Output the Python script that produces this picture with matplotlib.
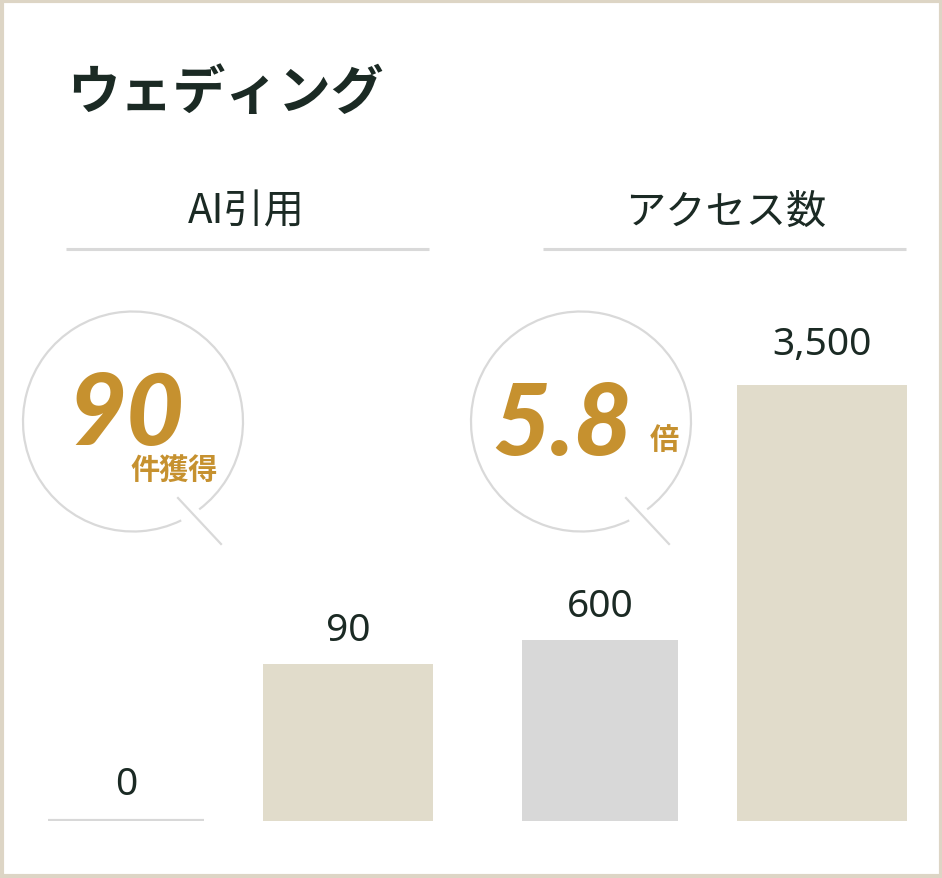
import matplotlib.pyplot as plt
import numpy as np
from matplotlib.patches import Arc, Rectangle

plt.rcParams['font.family'] = ['Noto Sans CJK JP', 'DejaVu Sans']

# data
title = 'ウェディング'
panels = ['AI引用', 'アクセス数']
before = [0, 600]
after = [90, 3500]
labels_before = ['0', '600']
labels_after = ['90', '3,500']
badge_values = ['90', '5.8']
badge_units = ['件獲得', '倍']

dark = '#1b2a24'
gold = '#c6912f'
beige = '#e1dccb'
grey = '#d8d8d8'

W, H = 942, 879
fig = plt.figure(figsize=(W / 100, H / 100), dpi=100)
fig.patch.set_facecolor('white')


def px_box(x0, x1, y_top, y_bot):
    return [x0 / W, 1 - y_bot / H, (x1 - x0) / W, (y_bot - y_top) / H]


# bar axes: one per panel
bar_top, bar_bot = 322, 822
axes = [fig.add_axes(px_box(15, 459, bar_top, bar_bot)),
        fig.add_axes(px_box(489, 933, bar_top, bar_bot))]
axes[1].set_yscale('function', functions=(np.sqrt, np.square))
axes[0].set_ylim(0, after[0] * (bar_bot - bar_top) / 157)
axes[1].set_ylim(0, (np.sqrt(after[1]) * (bar_bot - bar_top) / 436) ** 2)

# label offsets above bar top (pixels)
offsets = [[37, 34], [34, 41]]

for i, ax in enumerate(axes):
    ax.set_xlim(-0.5, 1.5)
    ax.axis('off')
    vals = [before[i], after[i]]
    widths = [0.703, 0.77]
    cols = [grey, beige]
    ax.bar([0, 1], vals, width=widths, color=cols, linewidth=0)
    for j, v in enumerate(vals):
        if v == 0:
            ax.hlines(0, j - widths[j] / 2, j + widths[j] / 2, color=grey, linewidth=3)
    lab = [labels_before[i], labels_after[i]]
    for j, v in enumerate(vals):
        ax.annotate(lab[j], (j, v), xytext=(0, offsets[i][j]), textcoords='offset pixels',
                    ha='center', va='center', fontsize=28, color=dark,
                    family=['Noto Sans', 'DejaVu Sans'])

# overlay in pixel coordinates
ov = fig.add_axes([0, 0, 1, 1])
ov.set_xlim(0, W)
ov.set_ylim(H, 0)
ov.axis('off')
ov.patch.set_alpha(0)
ov.add_patch(Rectangle((1.5, 1.5), W - 3, H - 3, fill=False, edgecolor='#ddd5c5', linewidth=3))

ov.text(67, 93, title, ha='left', va='center', fontsize=38, fontweight='bold', color=dark)

for cx, x0, x1, name in [(246, 66, 429, panels[0]), (726, 543, 906, panels[1])]:
    ov.text(cx, 212, name, ha='center', va='center', fontsize=29, color=dark)
    ov.plot([x0, x1], [250, 250], color='#d9d9d9', linewidth=2.2, solid_capstyle='butt')

ratio = after[1] / before[1]
badge_values[1] = f'{ratio:.1f}'
for k, cx in enumerate([133, 581]):
    cy = 422.5
    ov.add_patch(Arc((cx, cy), 220, 220, theta1=64, theta2=413, color='#d9d9d9', linewidth=1.6))
    ov.plot([cx + 45, cx + 88], [cy + 76.5, cy + 122.5], color='#d9d9d9', linewidth=1.6)

ov.text(126, 445, badge_values[0], ha='center', va='baseline', fontsize=72, color=gold,
        family=['Lato', 'DejaVu Sans'], fontweight='black', style='italic')
ov.text(218, 470, badge_units[0], ha='right', va='center', fontsize=21, color=gold, fontweight='bold')
ov.text(562, 455, badge_values[1], ha='center', va='baseline', fontsize=72, color=gold,
        family=['Lato', 'DejaVu Sans'], fontweight='black', style='italic')
ov.text(664, 440, badge_units[1], ha='center', va='center', fontsize=21, color=gold, fontweight='bold')

fig.savefig('out.png', dpi=100)
